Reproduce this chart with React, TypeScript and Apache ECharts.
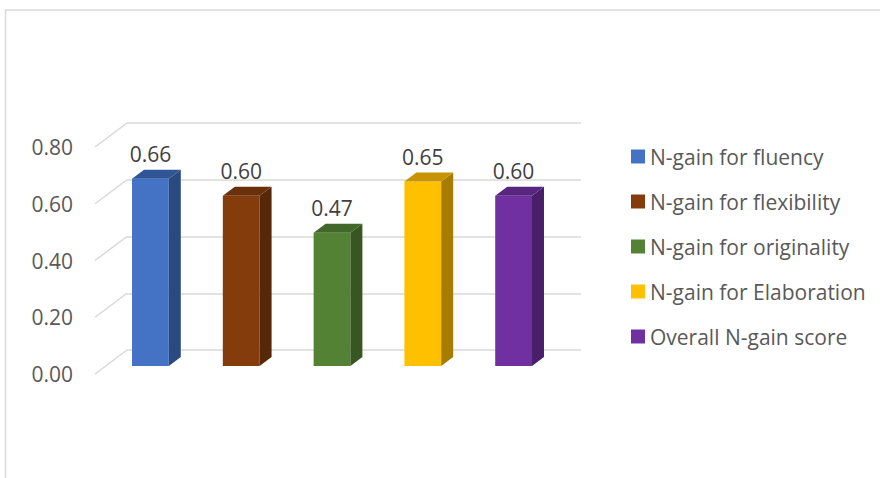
import React, { useEffect, useRef } from "react";
import * as echarts from "echarts";

const categories = [
  "N-gain for fluency",
  "N-gain for flexibility",
  "N-gain for originality",
  "N-gain for Elaboration",
  "Overall N-gain score",
];
const values = [0.66, 0.6, 0.47, 0.65, 0.6];
const yTicks = [0, 0.2, 0.4, 0.6, 0.8];
const frontColors = ["#4472C4", "#843C0C", "#548235", "#FFC000", "#7030A0"];
const sideColors = ["#2B4A80", "#572808", "#375622", "#A67D00", "#4A1F6A"];
const topColors = ["#305597", "#6A300A", "#42672A", "#C79400", "#59267F"];

const FONT = "'Open Sans', 'Noto Sans', sans-serif";
const FS = 21;
const DEPTH_FLOOR = [32, 24];
const DEPTH_BAR = [12, 9];

export default function App() {
  const ref = useRef<HTMLDivElement>(null);
  useEffect(() => {
    if (!ref.current) return;
    const chart = echarts.init(ref.current, null, { renderer: "svg" });

    const hiddenX = (gi: number) => ({
      type: "category",
      gridIndex: gi,
      data: categories,
      axisLine: { show: false },
      axisTick: { show: false },
      axisLabel: { show: false },
      splitLine: { show: false },
    });
    const yBase = (gi: number) => ({
      type: "value",
      gridIndex: gi,
      min: 0,
      max: 0.8,
      interval: 0.2,
      axisLine: { show: false },
      axisTick: { show: false },
      axisLabel: { show: false },
      splitLine: { show: false },
    });

    const barSeries = categories.map((name, i) => ({
      type: "custom",
      name,
      xAxisIndex: 2,
      yAxisIndex: 2,
      itemStyle: { color: frontColors[i] },
      data: [[i, values[i]]],
      renderItem: (params: any, api: any) => {
        const idx = api.value(0);
        const v = api.value(1);
        const top = api.coord([idx, v]);
        const bot = api.coord([idx, 0]);
        const bw = api.size([1, 0])[0] * 0.405;
        const x0 = top[0] - bw / 2;
        const x1 = top[0] + bw / 2;
        const yt = top[1];
        const yb = bot[1];
        const [dx, dy] = DEPTH_BAR;
        return {
          type: "group",
          children: [
            {
              type: "rect",
              shape: { x: x0, y: yt, width: bw, height: yb - yt },
              style: { fill: frontColors[i] },
            },
            {
              type: "polygon",
              shape: {
                points: [
                  [x1, yt],
                  [x1 + dx, yt - dy],
                  [x1 + dx, yb - dy],
                  [x1, yb],
                ],
              },
              style: { fill: sideColors[i] },
            },
            {
              type: "polygon",
              shape: {
                points: [
                  [x0, yt],
                  [x1, yt],
                  [x1 + dx, yt - dy],
                  [x0 + dx, yt - dy],
                ],
              },
              style: { fill: topColors[i] },
            },
            {
              type: "text",
              style: {
                text: v.toFixed(2),
                x: top[0],
                y: yt - dy - 15.5,
                align: "center",
                verticalAlign: "middle",
                fill: "#404040",
                font: `${FS}px ${FONT}`,
              },
            },
          ],
        };
      },
    }));

    const option: any = {
      animation: false,
      backgroundColor: "#ffffff",
      graphic: [
        {
          type: "rect",
          shape: { x: 5.5, y: 10, width: 1000, height: 1000 },
          style: { fill: "none", stroke: "#d9d9d9", lineWidth: 1.5 },
          silent: true,
        },
      ],
      grid: [
        { left: 127, top: 123, width: 454, height: 227 },
        { left: 95, top: 147, width: 454, height: 227 },
        { left: 105, top: 139, width: 454, height: 227 },
      ],
      xAxis: [hiddenX(0), hiddenX(1), hiddenX(2)],
      yAxis: [
        {
          ...yBase(0),
          splitLine: { show: true, lineStyle: { color: "#d9d9d9", width: 1.5 } },
        },
        {
          ...yBase(1),
          axisLabel: {
            show: true,
            margin: 22,
            color: "#595959",
            fontSize: FS,
            fontFamily: FONT,
            formatter: (v: number) => v.toFixed(2),
          },
        },
        yBase(2),
      ],
      legend: {
        orient: "vertical",
        left: 631,
        top: 146,
        padding: 0,
        icon: "rect",
        itemWidth: 14,
        itemHeight: 14,
        itemGap: 24,
        data: categories,
        selectedMode: false,
        textStyle: { color: "#595959", fontSize: FS, fontFamily: FONT, lineHeight: 21 },
      },
      series: [
        {
          type: "custom",
          name: "floor",
          xAxisIndex: 0,
          yAxisIndex: 0,
          silent: true,
          data: yTicks.map((v) => [0, v]),
          renderItem: (params: any, api: any) => {
            const p = api.coord([0, api.value(1)]);
            const x = params.coordSys.x;
            return {
              type: "line",
              shape: { x1: x, y1: p[1], x2: x - DEPTH_FLOOR[0], y2: p[1] + DEPTH_FLOOR[1] },
              style: { stroke: "#d9d9d9", lineWidth: 1.5 },
            };
          },
        },
        ...barSeries,
      ],
    };
    chart.setOption(option);
    return () => chart.dispose();
  }, []);
  return (
    <div
      ref={ref}
      style={{ position: "absolute", left: 0, top: 0, width: 880, height: 478 }}
    />
  );
}
